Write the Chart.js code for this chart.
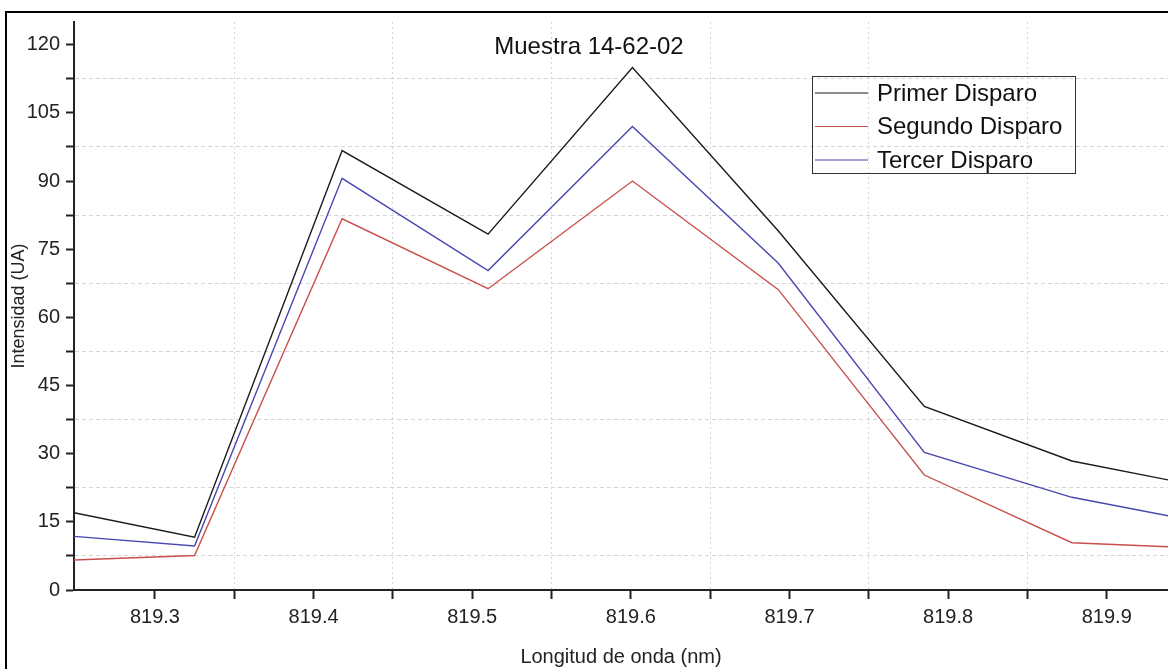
<!DOCTYPE html>
<html>
<head>
<meta charset="utf-8">
<script src="https://cdn.jsdelivr.net/npm/chart.js@4"></script>
<style>
body{margin:0;background:#fff}
#wrap{position:relative;width:1168px;height:669px}
#frame{position:absolute;left:5px;top:11px;right:-4px;bottom:-4px;border:2px solid #000}
canvas{position:absolute;left:0;top:0}
</style>
</head>
<body>
<div id="wrap">
<div id="frame"></div>
<canvas id="chart" width="1168" height="669"></canvas>
</div>
<script>

const wavelengths=[819.249,819.325,819.418,819.510,819.601,819.693,819.785,819.878,819.939]
const primer=[17.0,11.6,96.7,78.3,115.0,79.0,40.4,28.4,24.2]
const segundo=[6.6,7.6,81.7,66.3,90.0,66.1,25.3,10.4,9.5]
const tercer=[11.8,9.7,90.6,70.3,102.0,71.9,30.3,20.4,16.3]

const seriesNames=["Primer Disparo","Segundo Disparo","Tercer Disparo"]
const xTicks=[819.3,819.35,819.4,819.45,819.5,819.55,819.6,819.65,819.7,819.75,819.8,819.85,819.9]
const yTicks=[0,7.5,15,22.5,30,37.5,45,52.5,60,67.5,75,82.5,90,97.5,105,112.5,120]
const title="Muestra 14-62-02"

const font="'Liberation Sans', Arial, sans-serif"

function pts(vals){
return wavelengths.map((w,i)=>({x:w,y:vals[i]}))
}

const isMajorX=v=>Math.abs(Math.round(v*10)-v*10)<1e-6
const isMajorY=v=>v%15===0

// title and legend sit inside the plot, drawn by hand
const insidePlugin={
id:"inside",
afterDraw(c){
const ctx=c.ctx
ctx.save()
ctx.fillStyle="#111"
ctx.font="24px "+font
ctx.textAlign="center"
ctx.textBaseline="middle"
ctx.fillText(title,589,47)

const bx=812,by=76,bw=263,bh=97
ctx.strokeStyle="#333"
ctx.lineWidth=1
ctx.strokeRect(bx+0.5,by+0.5,bw,bh)
ctx.textAlign="left"
c.data.datasets.forEach((d,i)=>{
const y=93+i*33.5
ctx.strokeStyle=d.borderColor
ctx.lineWidth=1.2
ctx.beginPath()
ctx.moveTo(815,y)
ctx.lineTo(868,y)
ctx.stroke()
ctx.fillText(d.label,877,y+1)
})
ctx.restore()
}
}

new Chart(document.getElementById("chart"),{
type:"line",
data:{
datasets:[
{label:seriesNames[0],data:pts(primer),borderColor:"#1a1a1a"},
{label:seriesNames[1],data:pts(segundo),borderColor:"#c8504c"},
{label:seriesNames[2],data:pts(tercer),borderColor:"#4848b0"}
]
},
options:{
responsive:false,
animation:false,
layout:{padding:{top:22,left:0,right:0,bottom:0}},
elements:{
line:{borderWidth:1.4,tension:0},
point:{radius:0}
},
plugins:{legend:{display:false},tooltip:{enabled:false}},
scales:{
x:{
type:"linear",
min:819.249,
max:819.9386,
afterBuildTicks:s=>{s.ticks=xTicks.map(v=>({value:v}))},
afterFit:s=>{s.height=79},
ticks:{
autoSkip:false,
maxRotation:0,
padding:6,
color:"#222",
font:{family:font,size:20},
callback:v=>isMajorX(v)?v.toFixed(1):""
},
grid:{
color:ctx=>ctx.tick&&!isMajorX(ctx.tick.value)?"#d6d6d6":"rgba(0,0,0,0)",
tickColor:"#222",
tickWidth:2,
tickLength:9,
lineWidth:1
},
border:{color:"#222",width:2,dash:[2,3]},
title:{display:true,text:"Longitud de onda (nm)",color:"#222",font:{family:font,size:20},padding:{top:0,bottom:0}}
},
y:{
min:0,
max:125,
afterBuildTicks:s=>{s.ticks=yTicks.map(v=>({value:v}))},
afterFit:s=>{s.width=74},
ticks:{
autoSkip:false,
padding:6,
color:"#222",
font:{family:font,size:20},
callback:v=>isMajorY(v)?String(v):""
},
grid:{
color:ctx=>ctx.tick&&!isMajorY(ctx.tick.value)?"#d6d6d6":"rgba(0,0,0,0)",
tickColor:"#222",
tickWidth:2,
tickLength:8,
lineWidth:1
},
border:{color:"#222",width:2,dash:[4,3]},
title:{display:true,text:"Intensidad (UA)",color:"#222",font:{family:font,size:18},padding:{top:8,bottom:0}}
}
}
},
plugins:[insidePlugin]
})

</script>
</body>
</html>
